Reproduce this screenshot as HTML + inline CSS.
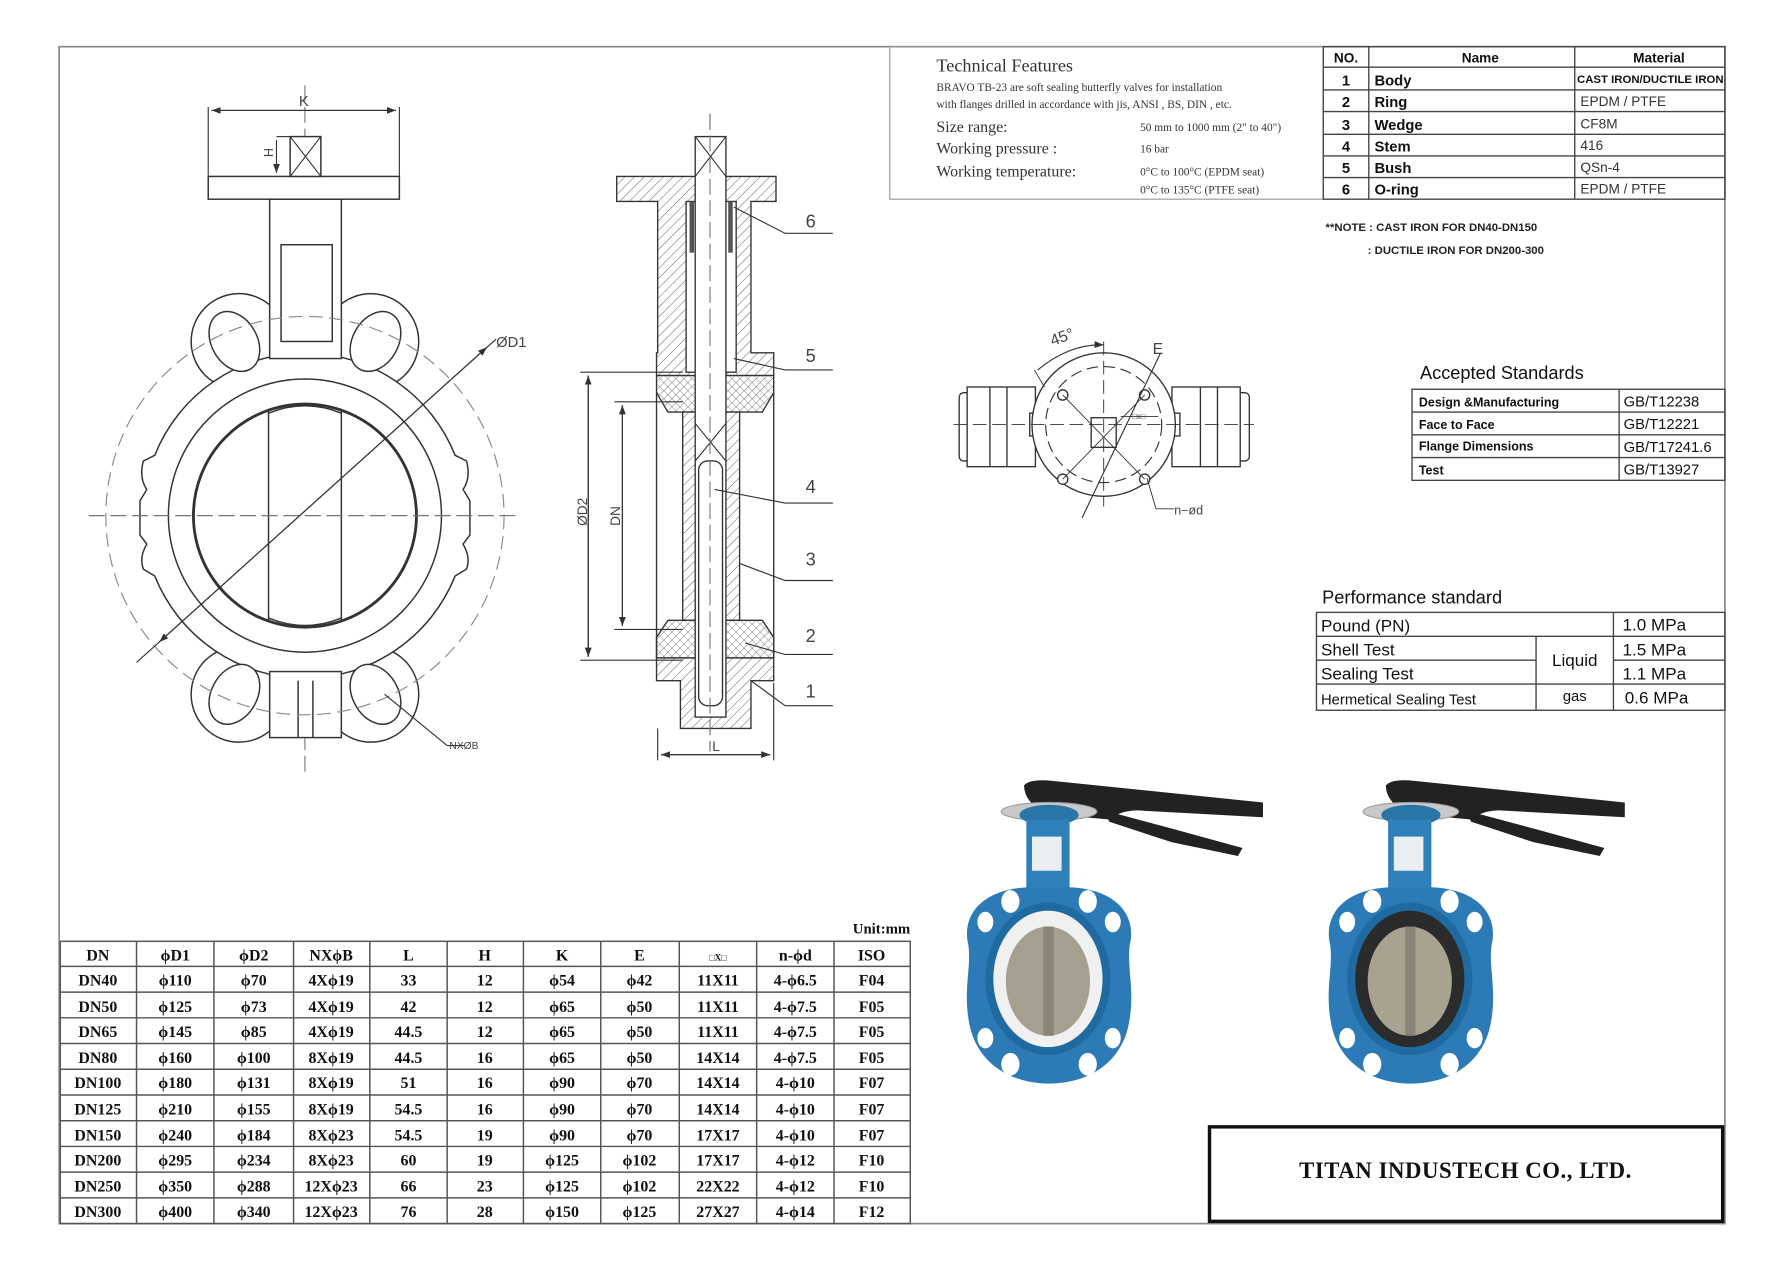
<!DOCTYPE html>
<html><head><meta charset="utf-8">
<style>
html,body{margin:0;padding:0;background:#fff;}
svg{display:block;}
.s{font-family:"Liberation Serif",serif;}
.n{font-family:"Liberation Sans Narrow","Liberation Sans",sans-serif;}
.a{font-family:"Liberation Sans",sans-serif;}
</style></head>
<body>
<svg width="1775" height="1268" viewBox="0 0 1560 1114" preserveAspectRatio="none" xmlns="http://www.w3.org/2000/svg">
<defs>
<pattern id="h" width="6" height="6" patternUnits="userSpaceOnUse" patternTransform="rotate(45)">
<rect width="6" height="6" fill="#fff"/><line x1="0" y1="0" x2="0" y2="6" stroke="#555" stroke-width="0.8"/></pattern>
<pattern id="x" width="5" height="5" patternUnits="userSpaceOnUse" patternTransform="rotate(45)">
<rect width="5" height="5" fill="#fff"/><path d="M0 0V5M0 0H5" stroke="#666" stroke-width="0.7"/></pattern>
<marker id="ar" markerWidth="8" markerHeight="6" refX="8" refY="3" orient="auto"><path d="M0 0L8 3L0 6z" fill="#333"/></marker>
</defs>
<rect x="0" y="0" width="1560" height="1114" fill="#fff"/>
<!-- outer border -->
<rect x="52" y="41" width="1464" height="1034" fill="none" stroke="#888" stroke-width="1.5"/>

<!-- ============ FRONT VIEW ============ -->
<g stroke="#333" stroke-width="1.3" fill="none">
<line x1="268" y1="75" x2="268" y2="680" stroke-dasharray="14 5" stroke="#777" stroke-width="1"/>
<circle cx="210" cy="300" r="42" fill="#fff"/>
<circle cx="326" cy="300" r="42" fill="#fff"/>
<circle cx="210" cy="610" r="42" fill="#fff"/>
<circle cx="326" cy="610" r="42" fill="#fff"/>
<path d="M268 310 A143 143 0 0 1 400 400 L410 405 Q414 420 407 430 L413 440 L413 470 L407 478 Q414 490 410 500 L400 506 A143 143 0 0 1 268 596 A143 143 0 0 1 136 506 L126 500 Q122 490 129 478 L123 470 L123 440 L129 430 Q122 420 126 405 L136 400 A143 143 0 0 1 268 310z" fill="#fff"/>
<rect x="237" y="175" width="63" height="140" fill="#fff"/>
<rect x="247" y="215" width="45" height="85"/>
<rect x="237" y="590" width="63" height="58" fill="#fff"/>
<line x1="262" y1="598" x2="262" y2="648"/><line x1="275" y1="598" x2="275" y2="648"/>
<ellipse cx="206" cy="300" rx="20" ry="28" transform="rotate(-30 206 300)" fill="#fff"/>
<ellipse cx="330" cy="300" rx="20" ry="28" transform="rotate(30 330 300)" fill="#fff"/>
<ellipse cx="206" cy="610" rx="20" ry="28" transform="rotate(30 206 610)" fill="#fff"/>
<ellipse cx="330" cy="610" rx="20" ry="28" transform="rotate(-30 330 610)" fill="#fff"/>
<circle cx="268" cy="453" r="120" fill="#fff"/>
<circle cx="268" cy="453" r="98" stroke-width="2.5"/>
<line x1="236" y1="360" x2="236" y2="546"/><line x1="300" y1="360" x2="300" y2="546"/>
<path d="M236 363 Q268 350 300 363 M236 543 Q268 556 300 543"/>
<circle cx="268" cy="453" r="175" stroke="#888" stroke-dasharray="12 6" stroke-width="1"/>
<line x1="78" y1="453" x2="455" y2="453" stroke="#777" stroke-dasharray="14 5" stroke-width="1"/>
<line x1="120" y1="582" x2="428" y2="305" stroke-width="1" marker-end="url(#ar)"/>
<line x1="428" y1="305" x2="140" y2="564" stroke-width="1" marker-end="url(#ar)"/>
<line x1="428" y1="305" x2="436" y2="298" stroke-width="1"/>
<rect x="183" y="155" width="168" height="20" fill="#fff"/>
<rect x="255" y="120" width="27" height="35" fill="#fff"/>
<path d="M255 120L282 155M282 120L255 155" stroke-width="1"/>
<line x1="183" y1="94" x2="183" y2="155" stroke-width="1"/><line x1="351" y1="94" x2="351" y2="155" stroke-width="1"/>
<line x1="186" y1="97" x2="348" y2="97" stroke-width="1" marker-end="url(#ar)"/>
<line x1="348" y1="97" x2="186" y2="97" stroke-width="1" marker-end="url(#ar)"/>
<line x1="243" y1="120" x2="255" y2="120" stroke-width="1"/>
<line x1="243" y1="123" x2="243" y2="152" stroke-width="1" marker-end="url(#ar)"/>
<path d="M338 610 L393 655 L408 655" stroke-width="1"/>
</g>
<text x="267" y="93" class="a" font-size="13" text-anchor="middle" fill="#444">K</text>
<text x="240" y="138" class="a" font-size="11" fill="#444" transform="rotate(-90 240 138)">H</text>
<text x="436" y="305" class="a" font-size="13" fill="#444">ØD1</text>
<text x="395" y="658" class="a" font-size="9" fill="#444">NXØB</text>

<!-- ============ SIDE VIEW ============ -->
<g stroke="#333" stroke-width="1.2">
<line x1="624" y1="100" x2="624" y2="660" stroke="#777" stroke-dasharray="14 5" stroke-width="1"/>
<path d="M542 155H682V177H660V310H680V330H577V310H578V177H542z" fill="url(#h)"/>
<path d="M577 330H680V345L670 362H587L577 345z" fill="url(#x)"/>
<rect x="600" y="362" width="50" height="183" fill="url(#h)"/>
<path d="M587 545H670L680 560V578H577V560z" fill="url(#x)"/>
<path d="M577 578H680V598H660V640H598V598H577z" fill="url(#h)"/>
<line x1="577" y1="345" x2="577" y2="578" fill="none"/>
<line x1="680" y1="345" x2="680" y2="578" fill="none"/>
<rect x="603" y="177" width="44" height="150" fill="#fff"/>
<rect x="606" y="177" width="4" height="45" fill="#555" stroke="none"/>
<rect x="640" y="177" width="4" height="45" fill="#555" stroke="none"/>
<rect x="611" y="120" width="27" height="510" fill="#fff"/>
<path d="M611 120L638 155M638 120L611 155M611 372L638 405M638 372L611 405" fill="none" stroke-width="1"/>
<rect x="614" y="405" width="21" height="215" fill="#fff" rx="8"/>
<line x1="624" y1="100" x2="624" y2="660" stroke="#777" stroke-dasharray="14 5" stroke-width="1"/>
</g>
<g stroke="#333" stroke-width="1" fill="none">
<line x1="510" y1="327" x2="600" y2="327"/><line x1="510" y1="580" x2="600" y2="580"/>
<line x1="517" y1="330" x2="517" y2="577" marker-end="url(#ar)"/><line x1="517" y1="577" x2="517" y2="330" marker-end="url(#ar)"/>
<line x1="540" y1="353" x2="600" y2="353"/><line x1="540" y1="553" x2="600" y2="553"/>
<line x1="547" y1="356" x2="547" y2="550" marker-end="url(#ar)"/><line x1="547" y1="550" x2="547" y2="356" marker-end="url(#ar)"/>
<line x1="578" y1="640" x2="578" y2="668"/><line x1="680" y1="600" x2="680" y2="668"/>
<line x1="581" y1="663" x2="677" y2="663" marker-end="url(#ar)"/><line x1="677" y1="663" x2="581" y2="663" marker-end="url(#ar)"/>
<path d="M645 182 L690 205 H732"/>
<path d="M645 315 L690 325 H732"/>
<path d="M628 430 L690 442 H732"/>
<path d="M650 495 L690 510 H732"/>
<path d="M655 565 L690 575 H732"/>
<path d="M660 598 L690 620 H732"/>
</g>
<g class="a" font-size="16" fill="#444">
<text x="708" y="200">6</text><text x="708" y="318">5</text><text x="708" y="433">4</text>
<text x="708" y="497">3</text><text x="708" y="564">2</text><text x="708" y="613">1</text>
</g>
<text x="516" y="462" class="a" font-size="12" fill="#444" transform="rotate(-90 516 462)">ØD2</text>
<text x="545" y="462" class="a" font-size="12" fill="#444" transform="rotate(-90 545 462)">DN</text>
<text x="626" y="660" class="a" font-size="12" fill="#444">L</text>

<!-- ============ TOP VIEW ============ -->
<g stroke="#333" stroke-width="1.2" fill="#fff">
<rect x="843" y="345" width="20" height="60" rx="4"/>
<rect x="850" y="340" width="60" height="70"/>
<line x1="870" y1="340" x2="870" y2="410"/><line x1="885" y1="340" x2="885" y2="410"/>
<rect x="1078" y="345" width="20" height="60" rx="4"/>
<rect x="1030" y="340" width="60" height="70"/>
<line x1="1055" y1="340" x2="1055" y2="410"/><line x1="1070" y1="340" x2="1070" y2="410"/>
<rect x="905" y="363" width="12" height="20"/><rect x="1025" y="363" width="12" height="20"/>
<circle cx="970" cy="373" r="63"/>
<circle cx="970" cy="373" r="51" fill="none" stroke-dasharray="10 5" stroke-width="1"/>
<circle cx="934" cy="347" r="4.5"/><circle cx="1006" cy="347" r="4.5"/>
<circle cx="934" cy="421" r="4.5"/><circle cx="1006" cy="421" r="4.5"/>
<rect x="959" y="367" width="22" height="26" fill="none"/>
<g fill="none" stroke-width="0.8">
<line x1="934" y1="347" x2="1006" y2="421"/><line x1="1006" y1="347" x2="934" y2="421"/>
<line x1="838" y1="373" x2="1102" y2="373" stroke-dasharray="12 5"/>
<line x1="970" y1="300" x2="970" y2="445" stroke-dasharray="12 5"/>
<line x1="1020" y1="310" x2="951" y2="455" stroke-width="1"/>
<path d="M912 325 Q940 302 970 303" stroke-width="1" marker-end="url(#ar)"/>
<line x1="909" y1="325" x2="918" y2="340"/>
<path d="M1008 420 L1016 447 H1032"/>
<path d="M985 366 H1018"/>
</g>
</g>
<text x="925" y="304" class="a" font-size="14" fill="#444" transform="rotate(-20 925 304)">45°</text>
<text x="1013" y="311" class="a" font-size="14" fill="#444">E</text>
<text x="995" y="368" class="a" font-size="7" fill="#444">□x□</text>
<text x="1032" y="452" class="a" font-size="11" fill="#444">n−ød</text>

<!-- ============ TECH FEATURES ============ -->
<rect x="782" y="41" width="381" height="134" fill="none" stroke="#999" stroke-width="1"/>
<g class="s" fill="#333">
<text x="823" y="63" font-size="16">Technical Features</text>
<text x="823" y="80" font-size="10">BRAVO TB-23 are soft sealing butterfly valves for installation</text>
<text x="823" y="95" font-size="10">with flanges drilled in accordance with jis, ANSI , BS, DIN , etc.</text>
<text x="823" y="116" font-size="14">Size range:</text>
<text x="823" y="135" font-size="14">Working pressure :</text>
<text x="823" y="155" font-size="14">Working temperature:</text>
<text x="1002" y="115" font-size="10">50 mm to 1000 mm (2" to 40")</text>
<text x="1002" y="134" font-size="10">16 bar</text>
<text x="1002" y="154" font-size="10">0°C to 100°C (EPDM seat)</text>
<text x="1002" y="170" font-size="10">0°C to 135°C (PTFE seat)</text>
</g>
<!-- parts table -->
<g stroke="#444" stroke-width="1.2" fill="none">
<rect x="1163" y="41" width="353" height="134"/>
<line x1="1163" y1="59" x2="1516" y2="59"/><line x1="1163" y1="79" x2="1516" y2="79"/>
<line x1="1163" y1="98" x2="1516" y2="98"/><line x1="1163" y1="118" x2="1516" y2="118"/>
<line x1="1163" y1="137" x2="1516" y2="137"/><line x1="1163" y1="156" x2="1516" y2="156"/>
<line x1="1203" y1="41" x2="1203" y2="175"/><line x1="1384" y1="41" x2="1384" y2="175"/>
</g>
<g class="n" fill="#111" font-weight="bold">
<text x="1183" y="55" font-size="12" text-anchor="middle">NO.</text>
<text x="1301" y="55" font-size="12" text-anchor="middle">Name</text>
<text x="1458" y="55" font-size="12" text-anchor="middle">Material</text>
<g font-size="13" text-anchor="middle">
<text x="1183" y="75">1</text><text x="1183" y="94">2</text><text x="1183" y="114">3</text>
<text x="1183" y="133">4</text><text x="1183" y="152">5</text><text x="1183" y="171">6</text></g>
<g font-size="13">
<text x="1208" y="75">Body</text><text x="1208" y="94">Ring</text><text x="1208" y="114">Wedge</text>
<text x="1208" y="133">Stem</text><text x="1208" y="152">Bush</text><text x="1208" y="171">O-ring</text></g>
<text x="1386" y="73" font-size="10">CAST IRON/DUCTILE IRON</text>
</g>
<g class="a" fill="#333" font-size="12">
<text x="1389" y="93">EPDM / PTFE</text><text x="1389" y="113">CF8M</text>
<text x="1389" y="132">416</text><text x="1389" y="151">QSn-4</text><text x="1389" y="170">EPDM / PTFE</text>
</g>
<g class="n" fill="#222" font-size="10" font-weight="bold">
<text x="1165" y="203">**NOTE : CAST IRON FOR DN40-DN150</text>
<text x="1202" y="223">: DUCTILE  IRON FOR DN200-300</text>
</g>

<!-- ============ ACCEPTED STANDARDS ============ -->
<text x="1248" y="333" class="n" font-size="16" fill="#111">Accepted Standards</text>
<g stroke="#444" stroke-width="1.2" fill="none">
<rect x="1241" y="342" width="275" height="80"/>
<line x1="1241" y1="362" x2="1516" y2="362"/><line x1="1241" y1="382" x2="1516" y2="382"/>
<line x1="1241" y1="402" x2="1516" y2="402"/><line x1="1423" y1="342" x2="1423" y2="422"/>
</g>
<g class="n" fill="#111" font-weight="bold" font-size="11">
<text x="1247" y="357">Design &amp;Manufacturing</text><text x="1247" y="377">Face to Face</text>
<text x="1247" y="396">Flange Dimensions</text><text x="1247" y="417">Test</text>
</g>
<g class="n" fill="#111" font-size="13">
<text x="1427" y="357">GB/T12238</text><text x="1427" y="377">GB/T12221</text>
<text x="1427" y="397">GB/T17241.6</text><text x="1427" y="417">GB/T13927</text>
</g>

<!-- ============ PERFORMANCE ============ -->
<text x="1162" y="530" class="n" font-size="16" fill="#111">Performance standard</text>
<g stroke="#444" stroke-width="1.2" fill="none">
<rect x="1157" y="538" width="359" height="86"/>
<line x1="1157" y1="559" x2="1516" y2="559"/><line x1="1157" y1="580" x2="1350" y2="580"/>
<line x1="1418" y1="580" x2="1516" y2="580"/><line x1="1157" y1="601" x2="1516" y2="601"/>
<line x1="1350" y1="559" x2="1350" y2="624"/><line x1="1418" y1="538" x2="1418" y2="624"/>
</g>
<g class="n" fill="#111" font-size="15">
<text x="1161" y="555">Pound (PN)</text><text x="1161" y="576">Shell Test</text>
<text x="1161" y="597">Sealing Test</text><text x="1161" y="619" font-size="13">Hermetical Sealing Test</text>
<text x="1384" y="585" text-anchor="middle">Liquid</text><text x="1384" y="616" text-anchor="middle" font-size="13">gas</text>
<text x="1426" y="554">1.0 MPa</text><text x="1426" y="576">1.5 MPa</text>
<text x="1426" y="597">1.1 MPa</text><text x="1428" y="618">0.6  MPa</text>
</g>

<!-- ============ PHOTOS ============ -->
<g id="v1">
<path d="M900 690 Q905 684 925 686 L1110 705 L1110 718 L1000 712 Q985 712 975 720 L920 715 Q900 705 900 690z" fill="#222"/>
<path d="M970 712 L1030 728 L1092 745 L1088 752 L1030 740 L975 722z" fill="#222"/>
<ellipse cx="922" cy="713" rx="42" ry="8" fill="#c9c9c9" stroke="#999"/>
<ellipse cx="922" cy="716" rx="26" ry="9" fill="#2a75a8"/>
<rect x="902" y="720" width="38" height="75" fill="#2f7fb8"/>
<rect x="907" y="735" width="26" height="30" fill="#e8eef2"/>
<path d="M922 780 C975 775 1000 800 993 830 C990 850 998 870 992 900 C985 935 955 952 922 952 C889 952 859 935 852 900 C846 870 854 850 851 830 C844 800 869 775 922 780z" fill="#2d7bb6"/>
<g fill="#fff">
<ellipse cx="888" cy="792" rx="8" ry="10"/><ellipse cx="956" cy="792" rx="8" ry="10"/>
<ellipse cx="866" cy="810" rx="7" ry="9"/><ellipse cx="978" cy="810" rx="7" ry="9"/>
<ellipse cx="888" cy="935" rx="8" ry="10"/><ellipse cx="956" cy="935" rx="8" ry="10"/>
<ellipse cx="866" cy="912" rx="7" ry="9"/><ellipse cx="978" cy="912" rx="7" ry="9"/>
</g>
<ellipse cx="921" cy="860" rx="55" ry="67" fill="#1f6aa0"/>
</g>
<ellipse cx="921" cy="860" rx="48" ry="60" fill="#f0f0f0"/>
<ellipse cx="921" cy="862" rx="37" ry="48" fill="#a59f90"/>
<rect x="917" y="814" width="9" height="96" fill="#8a8478"/>
<use href="#v1" transform="translate(318,0)"/>
<ellipse cx="1239" cy="860" rx="48" ry="60" fill="#2b2b2b"/>
<ellipse cx="1239" cy="862" rx="37" ry="48" fill="#a8a290"/>
<rect x="1235" y="814" width="9" height="96" fill="#8a8478"/>

<!-- ============ DATA TABLE ============ -->
<text x="800" y="820" class="s" font-size="13" font-weight="bold" text-anchor="end" fill="#111">Unit:mm</text>
<g stroke="#555" stroke-width="1.3" fill="none">
<rect x="53" y="827" width="747" height="248"/>
<path d="M53 849H800M53 871.6H800M53 894.2H800M53 916.8H800M53 939.4H800M53 962H800M53 984.6H800M53 1007.2H800M53 1029.8H800M53 1052.4H800"/>
<path d="M120 827V1075M188 827V1075M258 827V1075M325 827V1075M393 827V1075M460 827V1075M528 827V1075M597 827V1075M665 827V1075M733 827V1075"/>
</g>
<g class="s" font-size="14" font-weight="bold" fill="#111" text-anchor="middle">
<text y="844"><tspan x="86">DN</tspan><tspan x="154">ϕD1</tspan><tspan x="223">ϕD2</tspan><tspan x="291">NXϕB</tspan><tspan x="359">L</tspan><tspan x="426">H</tspan><tspan x="494">K</tspan><tspan x="562">E</tspan><tspan x="631" font-size="8">□X□</tspan><tspan x="699">n-ϕd</tspan><tspan x="766">ISO</tspan></text>
<text y="866"><tspan x="86">DN40</tspan><tspan x="154">ϕ110</tspan><tspan x="223">ϕ70</tspan><tspan x="291">4Xϕ19</tspan><tspan x="359">33</tspan><tspan x="426">12</tspan><tspan x="494">ϕ54</tspan><tspan x="562">ϕ42</tspan><tspan x="631">11X11</tspan><tspan x="699">4-ϕ6.5</tspan><tspan x="766">F04</tspan></text>
<text y="889"><tspan x="86">DN50</tspan><tspan x="154">ϕ125</tspan><tspan x="223">ϕ73</tspan><tspan x="291">4Xϕ19</tspan><tspan x="359">42</tspan><tspan x="426">12</tspan><tspan x="494">ϕ65</tspan><tspan x="562">ϕ50</tspan><tspan x="631">11X11</tspan><tspan x="699">4-ϕ7.5</tspan><tspan x="766">F05</tspan></text>
<text y="911"><tspan x="86">DN65</tspan><tspan x="154">ϕ145</tspan><tspan x="223">ϕ85</tspan><tspan x="291">4Xϕ19</tspan><tspan x="359">44.5</tspan><tspan x="426">12</tspan><tspan x="494">ϕ65</tspan><tspan x="562">ϕ50</tspan><tspan x="631">11X11</tspan><tspan x="699">4-ϕ7.5</tspan><tspan x="766">F05</tspan></text>
<text y="934"><tspan x="86">DN80</tspan><tspan x="154">ϕ160</tspan><tspan x="223">ϕ100</tspan><tspan x="291">8Xϕ19</tspan><tspan x="359">44.5</tspan><tspan x="426">16</tspan><tspan x="494">ϕ65</tspan><tspan x="562">ϕ50</tspan><tspan x="631">14X14</tspan><tspan x="699">4-ϕ7.5</tspan><tspan x="766">F05</tspan></text>
<text y="956"><tspan x="86">DN100</tspan><tspan x="154">ϕ180</tspan><tspan x="223">ϕ131</tspan><tspan x="291">8Xϕ19</tspan><tspan x="359">51</tspan><tspan x="426">16</tspan><tspan x="494">ϕ90</tspan><tspan x="562">ϕ70</tspan><tspan x="631">14X14</tspan><tspan x="699">4-ϕ10</tspan><tspan x="766">F07</tspan></text>
<text y="979"><tspan x="86">DN125</tspan><tspan x="154">ϕ210</tspan><tspan x="223">ϕ155</tspan><tspan x="291">8Xϕ19</tspan><tspan x="359">54.5</tspan><tspan x="426">16</tspan><tspan x="494">ϕ90</tspan><tspan x="562">ϕ70</tspan><tspan x="631">14X14</tspan><tspan x="699">4-ϕ10</tspan><tspan x="766">F07</tspan></text>
<text y="1002"><tspan x="86">DN150</tspan><tspan x="154">ϕ240</tspan><tspan x="223">ϕ184</tspan><tspan x="291">8Xϕ23</tspan><tspan x="359">54.5</tspan><tspan x="426">19</tspan><tspan x="494">ϕ90</tspan><tspan x="562">ϕ70</tspan><tspan x="631">17X17</tspan><tspan x="699">4-ϕ10</tspan><tspan x="766">F07</tspan></text>
<text y="1024"><tspan x="86">DN200</tspan><tspan x="154">ϕ295</tspan><tspan x="223">ϕ234</tspan><tspan x="291">8Xϕ23</tspan><tspan x="359">60</tspan><tspan x="426">19</tspan><tspan x="494">ϕ125</tspan><tspan x="562">ϕ102</tspan><tspan x="631">17X17</tspan><tspan x="699">4-ϕ12</tspan><tspan x="766">F10</tspan></text>
<text y="1047"><tspan x="86">DN250</tspan><tspan x="154">ϕ350</tspan><tspan x="223">ϕ288</tspan><tspan x="291">12Xϕ23</tspan><tspan x="359">66</tspan><tspan x="426">23</tspan><tspan x="494">ϕ125</tspan><tspan x="562">ϕ102</tspan><tspan x="631">22X22</tspan><tspan x="699">4-ϕ12</tspan><tspan x="766">F10</tspan></text>
<text y="1069"><tspan x="86">DN300</tspan><tspan x="154">ϕ400</tspan><tspan x="223">ϕ340</tspan><tspan x="291">12Xϕ23</tspan><tspan x="359">76</tspan><tspan x="426">28</tspan><tspan x="494">ϕ150</tspan><tspan x="562">ϕ125</tspan><tspan x="631">27X27</tspan><tspan x="699">4-ϕ14</tspan><tspan x="766">F12</tspan></text>
</g>

<!-- ============ COMPANY ============ -->
<rect x="1063" y="990" width="451" height="83" fill="#fff" stroke="#111" stroke-width="3"/>
<text x="1288" y="1035" class="s" font-size="20" font-weight="bold" text-anchor="middle" fill="#111" letter-spacing="0.5">TITAN INDUSTECH CO., LTD.</text>
</svg>
</body></html>
